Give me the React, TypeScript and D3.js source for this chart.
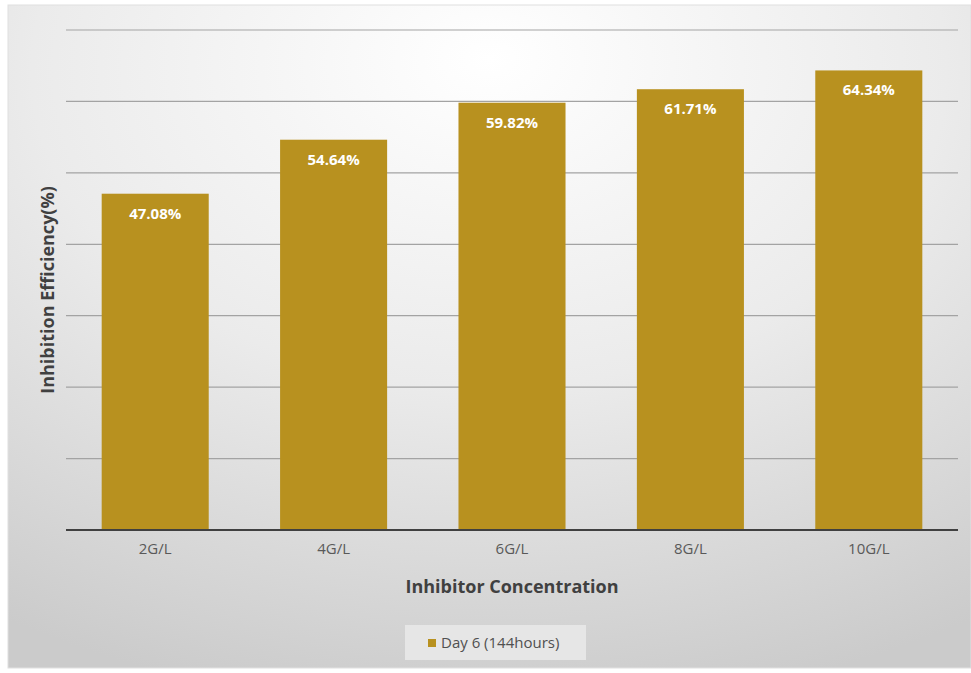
import React from "react";
import * as d3 from "d3";

const categories = ["2G/L", "4G/L", "6G/L", "8G/L", "10G/L"];
const values = [47.08, 54.64, 59.82, 61.71, 64.34];
const yTicks = [0, 10, 20, 30, 40, 50, 60, 70];
const seriesName = "Day 6 (144hours)";

const W = 971, H = 673;
const plot = { left: 66, right: 958, top: 30, bottom: 530 };
const barColor = "#B8911F";
const font = "'Open Sans', 'DejaVu Sans', sans-serif";

export default function App() {
  const x = d3.scaleBand<string>().domain(categories).range([plot.left, plot.right]).paddingInner(0.4).paddingOuter(0.2);
  const y = d3.scaleLinear().domain([0, 70]).range([plot.bottom, plot.top]);
  return (
    <svg width={W} height={H} style={{ position: "absolute", left: 0, top: 0 }}>
      <defs>
        <radialGradient id="bg" cx="0.5" cy="0.12" r="0.95" fx="0.5" fy="0.08">
          <stop offset="0" stopColor="#ffffff" />
          <stop offset="0.5" stopColor="#ebebeb" />
          <stop offset="1" stopColor="#cbcbcb" />
        </radialGradient>
      </defs>
      <rect x={0} y={0} width={W} height={H} fill="#ffffff" />
      <rect x={8} y={5} width={W - 8} height={663} fill="url(#bg)" stroke="#e0e0e0" />
      {yTicks.filter(t => t > 0).map(t => (
        <line key={t} x1={plot.left} x2={plot.right} y1={y(t)} y2={y(t)} stroke="#a3a3a3" strokeWidth={1.2} />
      ))}
      {categories.map((c, i) => (
        <g key={c}>
          <rect x={x(c)} y={y(values[i])} width={x.bandwidth()} height={y(0) - y(values[i])} fill={barColor} />
          <text x={(x(c) as number) + x.bandwidth() / 2} y={y(values[i]) + 25} textAnchor="middle" fill="#ffffff" fontFamily={font} fontWeight="bold" fontSize={15}>
            {values[i].toFixed(2)}%
          </text>
          <text x={(x(c) as number) + x.bandwidth() / 2} y={y(0) + 24} textAnchor="middle" fill="#595959" fontFamily={font} fontSize={15}>
            {c}
          </text>
        </g>
      ))}
      <line x1={plot.left} x2={plot.right} y1={y(0)} y2={y(0)} stroke="#404040" strokeWidth={2} />
      <text x={512} y={593} textAnchor="middle" fill="#404040" fontFamily={font} fontWeight="bold" fontSize={18}>
        Inhibitor Concentration
      </text>
      <text transform={`translate(54, ${290}) rotate(-90)`} textAnchor="middle" fill="#404040" fontFamily={font} fontWeight="bold" fontSize={18}>
        Inhibition Efficiency(%)
      </text>
      <rect x={405} y={625} width={181} height={35} fill="#e6e6e6" />
      <rect x={428} y={639} width={8} height={8} fill={barColor} />
      <text x={441} y={648} fill="#505050" fontFamily={font} fontSize={15}>
        {seriesName}
      </text>
    </svg>
  );
}
